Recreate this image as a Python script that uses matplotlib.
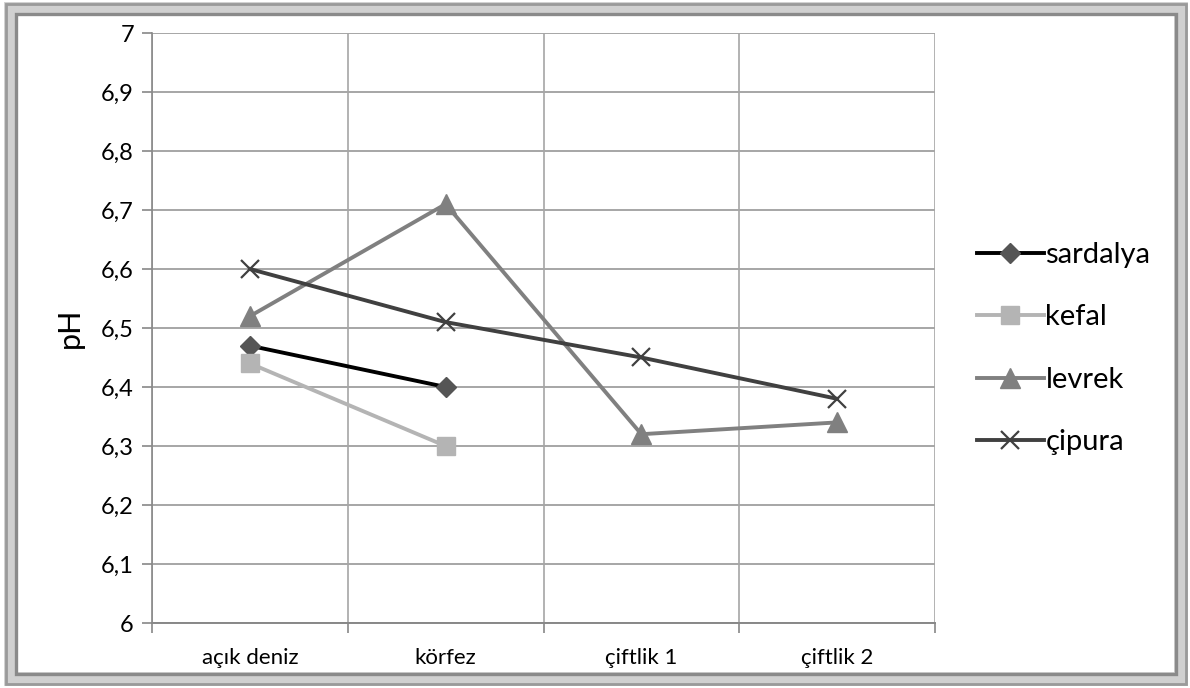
import matplotlib.pyplot as plt
from matplotlib.patches import Rectangle
from matplotlib.ticker import FixedLocator, FuncFormatter

plt.rcParams['font.family'] = ['Lato', 'DejaVu Sans']

# pH ölçümleri
yerler = ['açık deniz', 'körfez', 'çiftlik 1', 'çiftlik 2']
sardalya = [6.47, 6.40]
kefal = [6.44, 6.30]
levrek = [6.52, 6.71, 6.32, 6.34]
cipura = [6.60, 6.51, 6.45, 6.38]

fig = plt.figure(figsize=(11.9, 6.88), dpi=100)
ax = fig.add_axes([152 / 1190, 1 - 623 / 688, (935 - 152) / 1190, (623 - 33) / 688])

# çerçeve
W, H = 1190, 688
def kutu(x0, y0, x1, y1, renk, lw):
    fig.patches.append(Rectangle((x0 / W, 1 - y1 / H), (x1 - x0) / W, (y1 - y0) / H,
                                 transform=fig.transFigure, fill=False,
                                 edgecolor=renk, linewidth=lw, zorder=0))
kutu(11, 9, 1181, 679, '#d0d0d0', 10)
kutu(6, 4, 1186, 684, '#9a9a9a', 2)
kutu(16, 14, 1176, 674, '#8a8a8a', 2.4)

x = list(range(len(yerler)))
ax.plot(x[:2], sardalya, color='#000000', lw=2.8, marker='D', ms=10,
        mfc='#555555', mec='#555555', label='sardalya', zorder=3)
ax.plot(x[:2], kefal, color='#b4b4b4', lw=2.8, marker='s', ms=13,
        mfc='#b4b4b4', mec='#b4b4b4', label='kefal', zorder=3)
ax.plot(x, levrek, color='#808080', lw=2.8, marker='^', ms=14,
        mfc='#808080', mec='#808080', label='levrek', zorder=3)
ax.plot(x, cipura, color='#404040', lw=2.8, marker='x', ms=13, mew=1.6,
        mec='#404040', label='çipura', zorder=3)

ax.set_xlim(-0.5, 3.5)
ax.set_ylim(6, 7)
ax.set_yticks([6 + i / 10 for i in range(11)])
ax.yaxis.set_major_formatter(FuncFormatter(lambda v, p: f'{v:.1f}'.replace('.', ',').replace(',0', '')))
ax.set_xticks(x)
ax.set_xticklabels(yerler, fontsize=16)
ax.xaxis.set_minor_locator(FixedLocator([-0.5, 0.5, 1.5, 2.5, 3.5]))
ax.tick_params(axis='x', which='major', length=0, pad=18)
ax.tick_params(axis='x', which='minor', length=7, color='#888888', width=1.2)
ax.tick_params(axis='y', length=7, color='#888888', width=1.2, labelsize=17, pad=6)

ax.grid(True, axis='y', color='#a6a6a6', lw=1.4)
ax.grid(True, axis='x', which='minor', color='#a6a6a6', lw=1.2)
for s in ['top', 'right']:
    ax.spines[s].set_visible(False)
ax.spines['left'].set_color('#888888')
ax.spines['bottom'].set_color('#888888')
ax.spines['left'].set_linewidth(1.2)
ax.spines['bottom'].set_linewidth(1.4)

ax.set_ylabel('pH', fontsize=22, labelpad=12)

ax.legend(loc='center left', bbox_to_anchor=(1.02, 0.465), frameon=False,
          fontsize=21, handlelength=2.3, handletextpad=0.05, labelspacing=1.25)

fig.savefig('out.png', dpi=100)
